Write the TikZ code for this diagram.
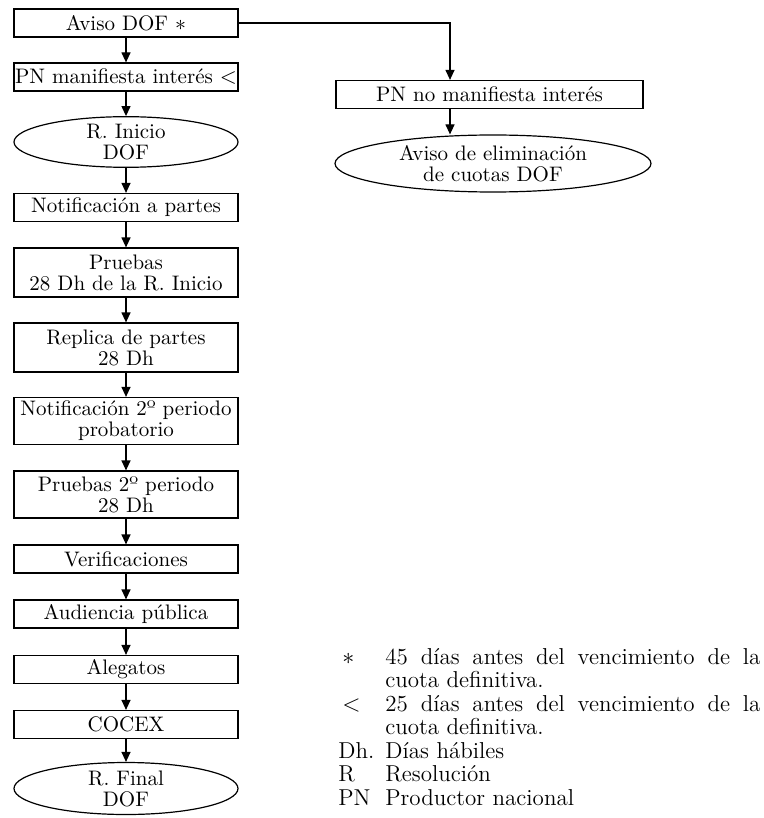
\documentclass[tikz,border=0pt]{standalone}
\usepackage{tikz}
\usetikzlibrary{arrows.meta}
\usetikzlibrary{shapes.geometric}
\tikzstyle{step_box}=[draw=black, rectangle, line width=0.6pt, inner sep=0pt,
    minimum width=112pt, minimum height=14pt, align=center,
    font=\fontsize{10.5}{10.5}\selectfont]
\tikzstyle{step_oval}=[step_box, ellipse, minimum height=25pt]
\tikzstyle{flow_arrow}=[line width=0.6pt, -{Triangle[width=4.5pt,length=5pt]}]

\begin{document}
\begin{tikzpicture}[x=0.5pt, y=-0.5pt]
\useasboundingbox (0,0) rectangle (764,818);
\node[step_box] (paso0) at (126,23){Aviso DOF $\ast$};
\node[step_box] (paso1) at (126,77){PN manifiesta interés $<$};
\node[step_oval] (paso2) at (126,142){R. Inicio\\DOF};
\node[step_box] (paso3) at (126,207.5){Notificación a partes};
\node[step_box, minimum height=24.5pt] (paso4) at (126,272.5){Pruebas\\28 Dh de la R. Inicio};
\node[step_box, minimum height=24.5pt] (paso5) at (126,347.5){Replica de partes\\28 Dh};
\node[step_box, minimum height=23.5pt] (paso6) at (126,421){Notificación 2º periodo\\probatorio};
\node[step_box, minimum height=23.5pt] (paso7) at (126,494.5){Pruebas 2º periodo\\28 Dh};
\node[step_box] (paso8) at (126,559){Verificaciones};
\node[step_box] (paso9) at (126,614){Audiencia pública};
\node[step_box] (paso10) at (126,669.5){Alegatos};
\node[step_box] (paso11) at (126,724.5){COCEX};
\node[step_oval, minimum height=26pt] (paso12) at (126,788.5){R. Final\\DOF};
\draw[flow_arrow](paso0) -- (paso1);
\draw[flow_arrow](paso1) -- (paso2);
\draw[flow_arrow](paso2) -- (paso3);
\draw[flow_arrow](paso3) -- (paso4);
\draw[flow_arrow](paso4) -- (paso5);
\draw[flow_arrow](paso5) -- (paso6);
\draw[flow_arrow](paso6) -- (paso7);
\draw[flow_arrow](paso7) -- (paso8);
\draw[flow_arrow](paso8) -- (paso9);
\draw[flow_arrow](paso9) -- (paso10);
\draw[flow_arrow](paso10) -- (paso11);
\draw[flow_arrow](paso11) -- (paso12);
% rama sin interes
\node[step_box, minimum width=153.5pt] (alt0) at (489.5,94.5){PN no manifiesta interés};
\node[step_oval, minimum width=158pt, minimum height=28.5pt] (alt1) at (493,163.5){Aviso de eliminación\\de cuotas DOF};
\coordinate (bend0) at (450,23);
\draw[flow_arrow](paso0.east) -- (bend0) -- (bend0 |- alt0.north);
\draw[flow_arrow](bend0 |- alt0.south) -- (bend0 |- alt1.north);
% notas
\node[anchor=base west, inner sep=0pt, font=\fontsize{11.5}{11.75}\selectfont] (notas) at (338,664){%
  \begin{tabular}[t]{@{}p{23.5pt}@{}p{187.5pt}@{}}
  \hspace{2pt}$\ast$ & 45 días antes del vencimiento de la\linebreak cuota definitiva.\\
  \hspace{2pt}$<$ & 25 días antes del vencimiento de la\linebreak cuota definitiva.\\
  Dh. & Días hábiles\\
  R & Resolución\\
  PN & Productor nacional
  \end{tabular}};
\end{tikzpicture}
\end{document}
